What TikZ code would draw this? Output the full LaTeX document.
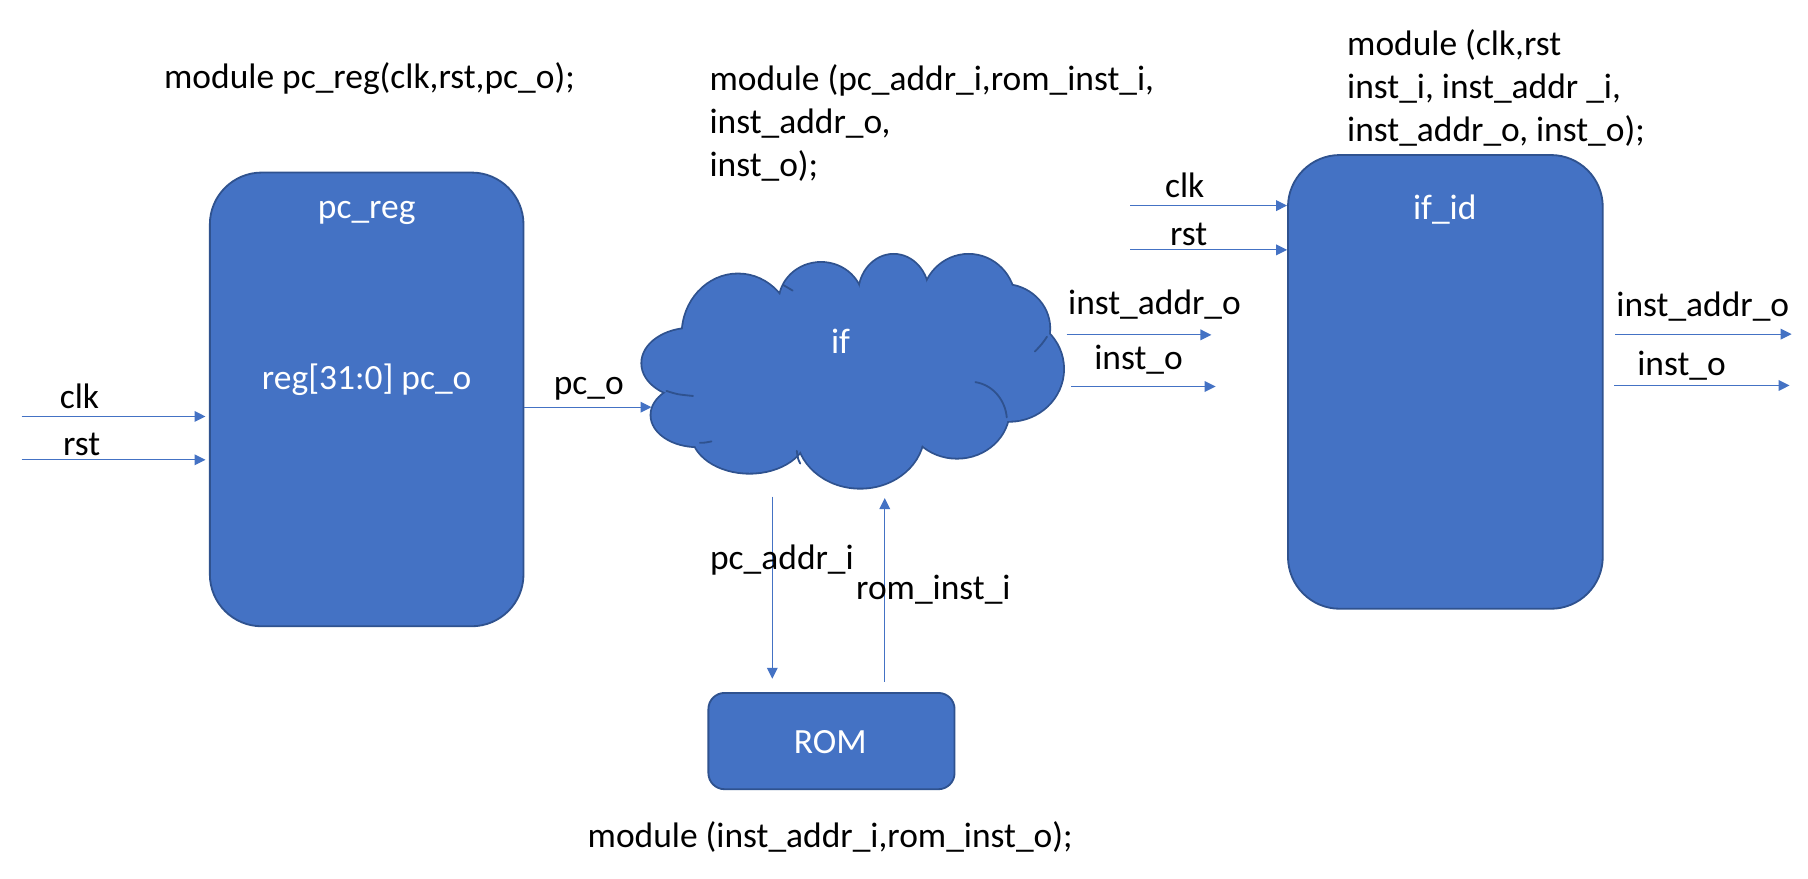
\documentclass[tikz,border=0pt]{standalone}
\usepackage{fontspec}
\setmainfont{Carlito}
\usepackage{tikz}
\usetikzlibrary{arrows.meta,positioning}
\definecolor{blk}{HTML}{4472C4}
\definecolor{edge}{HTML}{2F528F}
\definecolor{wire}{HTML}{4472C4}
\tikzset{
  box/.style={draw=edge, fill=blk, line width=0.9pt, rounded corners=9mm, inner sep=0pt},
  puffrim/.style={draw=edge, fill=blk, line width=1.8pt},
  pufffill/.style={fill=blk},
  stub/.style={draw=edge, line width=0.9pt, line cap=round},
  sig/.style={draw=wire, line width=0.6pt, -{Triangle[length=1.9mm,width=1.85mm]}},
  lab/.style={text=black, font=\fontsize{17.5}{21.3}\selectfont, inner sep=0pt},
  labw/.style={lab, text=white},
}
% puffs of the "if" cloud: centre x / centre y / x radius / y radius
\newcommand\ifpuffs{600/315/43/30, 605/360/40/27, 650/375/50/35, 746/375/55/48,
  830/355/45/42, 875/320/47/45, 870/285/40/38, 840/262/40/41, 775/255/30/34,
  712/262/36/34, 640/290/48/52, 740/320/130/65}
\begin{document}
\begin{tikzpicture}[x=0.2mm,y=-0.2mm]
  \useasboundingbox[fill=white] (0,0) rectangle (1568,762.3);
  % blocks
  \node[box, minimum width=54.4mm, minimum height=78.7mm] (pcreg) at (318,346.4) {};
  \node[box, minimum width=54.6mm, minimum height=78.7mm] (ifid) at (1253.5,331.2) {};
  \node[box, rounded corners=2.8mm, minimum width=42.7mm, minimum height=16.7mm] (rom) at (721.1,642.7) {};
  \foreach \cx/\cy/\rx/\ry in \ifpuffs
    \draw[puffrim] (\cx,\cy) ellipse [x radius=\rx, y radius=\ry];
  \foreach \cx/\cy/\rx/\ry in \ifpuffs
    \fill[pufffill] (\cx,\cy) ellipse [x radius=\rx, y radius=\ry];
  % inner creases of the cloud
  \draw[stub] (578,339) .. controls (587,342) .. (601,343.4);
  \draw[stub] (607,384) .. controls (611,384) .. (617,382.8);
  \draw[stub] (679,247) .. controls (683,249) .. (687.4,252);
  \draw[stub] (691,391) .. controls (692,398) .. (694,402);
  \draw[stub] (908,292) .. controls (904,298) .. (897.5,304.9);
  \draw[stub] (845.9,331.4) .. controls (862,334) and (872,348) .. (873.1,362);
  \node[labw, anchor=base] at (318,189.3) {pc\_reg};
  \node[labw, anchor=base] at (318,337.5) {reg[31:0] pc\_o};
  \node[labw, anchor=base] at (1253,190.7) {if\_id};
  \node[labw, anchor=base] at (720,653.1) {ROM};
  \node[labw, anchor=base] (ifc) at (729,307) {if};
  % module headers
  \node[lab, anchor=base west] (mpc) at (142,76.6) {module pc\_reg(clk,rst,pc\_o);};
  \node[lab, anchor=base west, align=left] (mif) at (615,153.2)
    {module (pc\_addr\_i,rom\_inst\_i,\\inst\_addr\_o,\\inst\_o);};
  \node[lab, anchor=base west, align=left] (mifid) at (1168,122.8)
    {module (clk,rst\\inst\_i, inst\_addr \_i,\\inst\_addr\_o, inst\_o);};
  \node[lab, anchor=base] (mrom) at (720,735.4) {module (inst\_addr\_i,rom\_inst\_o);};
  % pc_reg inputs
  \coordinate (clkA) at (18.8,361.2);
  \coordinate (rstA) at (18.8,398.8);
  \draw[sig, shorten >=0.6mm] (clkA) -- (clkA -| pcreg.west);
  \draw[sig, shorten >=0.6mm] (rstA) -- (rstA -| pcreg.west);
  \node[lab, anchor=base west] at (51.5,354) {clk};
  \node[lab, anchor=base west] at (54.4,395.3) {rst};
  % pc_reg -> if
  \coordinate (pcB) at (565,353.1);
  \draw[sig] (pcreg.east |- pcB) -- (pcB);
  \node[lab, anchor=base west] at (480,342.4) {pc\_o};
  % if <-> ROM
  \coordinate (addrA) at (669.8,430.6);
  \coordinate (instB) at (767.3,432);
  \draw[sig, shorten >=2.3mm] (addrA) -- (addrA |- rom.north);
  \draw[sig, shorten <=1.8mm] (instB |- rom.north) -- (instB);
  \node[lab, anchor=base west] at (615.5,494.2) {pc\_addr\_i};
  \node[lab, anchor=base west] at (742.2,520.2) {rom\_inst\_i};
  % if outputs
  \coordinate (ioA) at (925,290.4);
  \coordinate (ioB) at (1050.6,290.4);
  \coordinate (iiA) at (929,335.2);
  \coordinate (iiB) at (1054.2,335.2);
  \draw[sig] (ioA) -- (ioB);
  \draw[sig] (iiA) -- (iiB);
  \node[lab, anchor=base west] at (926,273) {inst\_addr\_o};
  \node[lab, anchor=base west] at (948.7,320.8) {inst\_o};
  % if_id inputs
  \coordinate (clkC) at (980.4,178.3);
  \coordinate (rstC) at (980.4,216.7);
  \draw[sig] (clkC) -- (clkC -| ifid.west);
  \draw[sig] (rstC) -- (rstC -| ifid.west);
  \node[lab, anchor=base west] at (1010,171) {clk};
  \node[lab, anchor=base west] at (1014.5,213.3) {rst};
  % if_id outputs
  \coordinate (oaB) at (1553.8,289.8);
  \coordinate (obB) at (1552,334.3);
  \draw[sig, shorten <=2mm] (ifid.east |- oaB) -- (oaB);
  \draw[sig, shorten <=1.8mm] (ifid.east |- obB) -- (obB);
  \node[lab, anchor=base west] at (1401.5,274.5) {inst\_addr\_o};
  \node[lab, anchor=base west] at (1419.6,326) {inst\_o};
\end{tikzpicture}
\end{document}
